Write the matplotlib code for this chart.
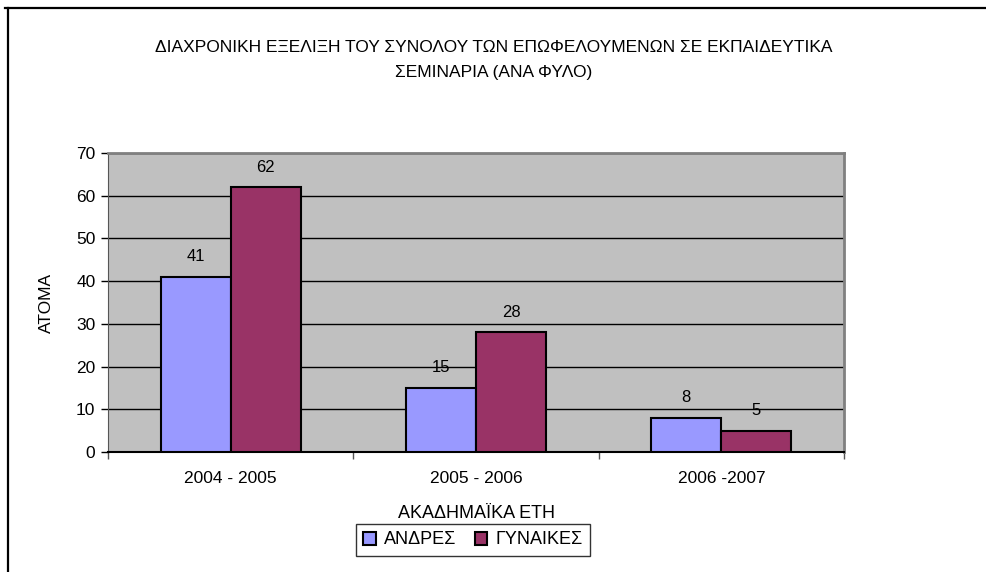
import matplotlib.pyplot as plt
from matplotlib.lines import Line2D
from matplotlib.patches import Patch

plt.rcParams["font.family"] = ["Liberation Sans", "DejaVu Sans"]

TITLE = "ΔΙΑΧΡΟΝΙΚΗ ΕΞΕΛΙΞΗ ΤΟΥ ΣΥΝΟΛΟΥ ΤΩΝ ΕΠΩΦΕΛΟΥΜΕΝΩΝ ΣΕ ΕΚΠΑΙΔΕΥΤΙΚΑ\nΣΕΜΙΝΑΡΙΑ (ΑΝΑ ΦΥΛΟ)"
YEARS = ["2004 - 2005", "2005 - 2006", "2006 -2007"]
SERIES_NAMES = ["ΑΝΔΡΕΣ", "ΓΥΝΑΙΚΕΣ"]
MEN = [41, 15, 8]
WOMEN = [62, 28, 5]
COLORS = ["#9999FF", "#993366"]

fig = plt.figure(figsize=(9.87, 5.72), dpi=100)
ax = fig.add_axes([108 / 987, 1 - 452 / 572, (844 - 108) / 987, (452 - 153) / 572])
ax.set_facecolor("#C0C0C0")

width = 0.285
xs = list(range(len(YEARS)))
for offset, values, color in [(-width / 2, MEN, COLORS[0]), (width / 2, WOMEN, COLORS[1])]:
    bars = ax.bar([x + offset for x in xs], values, width=width, color=color,
                  edgecolor="black", linewidth=1.5, zorder=3)
    for bar, v in zip(bars, values):
        ax.annotate(str(v), (bar.get_x() + bar.get_width() / 2, v), xytext=(0, 14.5),
                    textcoords="offset points", ha="center", va="center",
                    fontsize=12, zorder=4)

ax.set_xlim(-0.5, len(YEARS) - 0.5)
ax.set_ylim(0, 70)
ax.set_yticks(range(0, 71, 10))
ax.yaxis.grid(True, color="black", linewidth=1)
ax.set_axisbelow(True)

ax.set_xticks([x - 0.5 for x in range(len(YEARS) + 1)])
ax.set_xticklabels([])
ax.set_xticks(xs, minor=True)
ax.set_xticklabels(YEARS, minor=True, fontsize=12.5)
ax.tick_params(axis="x", which="minor", length=0, pad=14)
ax.tick_params(axis="x", which="major", length=5, width=1, color="#555555")
ax.tick_params(axis="y", length=5, width=1, labelsize=12.5, pad=4)

for side in ["top", "right"]:
    ax.spines[side].set_color("#808080")
    ax.spines[side].set_linewidth(2)
ax.spines["left"].set_color("#555555")
ax.spines["bottom"].set_color("black")
ax.spines["bottom"].set_linewidth(1.5)

ax.set_ylabel("ΑΤΟΜΑ", fontsize=12.5, labelpad=16)
ax.set_xlabel("ΑΚΑΔΗΜΑΪΚΑ ΕΤΗ", fontsize=13, labelpad=13)

fig.text(0.5, 1 - 60 / 572, TITLE, ha="center", va="center", fontsize=12.5,
         linespacing=1.75)

handles = [Patch(facecolor=c, edgecolor="black", linewidth=1.5) for c in COLORS]
leg = fig.legend(handles, SERIES_NAMES, loc="center", bbox_to_anchor=(473 / 987, 1 - 540 / 572),
                 ncol=2, fontsize=13, frameon=True, fancybox=False, handlelength=0.7,
                 handleheight=0.7, handletextpad=0.45, columnspacing=1.0, borderpad=0.4)
leg.get_frame().set_edgecolor("black")
leg.get_frame().set_linewidth(1)

fig.add_artist(Line2D([5 / 987, 1], [1 - 8 / 572, 1 - 8 / 572], color="black", linewidth=1.6,
                      transform=fig.transFigure))
fig.add_artist(Line2D([8 / 987, 8 / 987], [0, 1 - 8 / 572], color="black", linewidth=1.6,
                      transform=fig.transFigure))

fig.savefig("out.png", dpi=100, facecolor="white")
